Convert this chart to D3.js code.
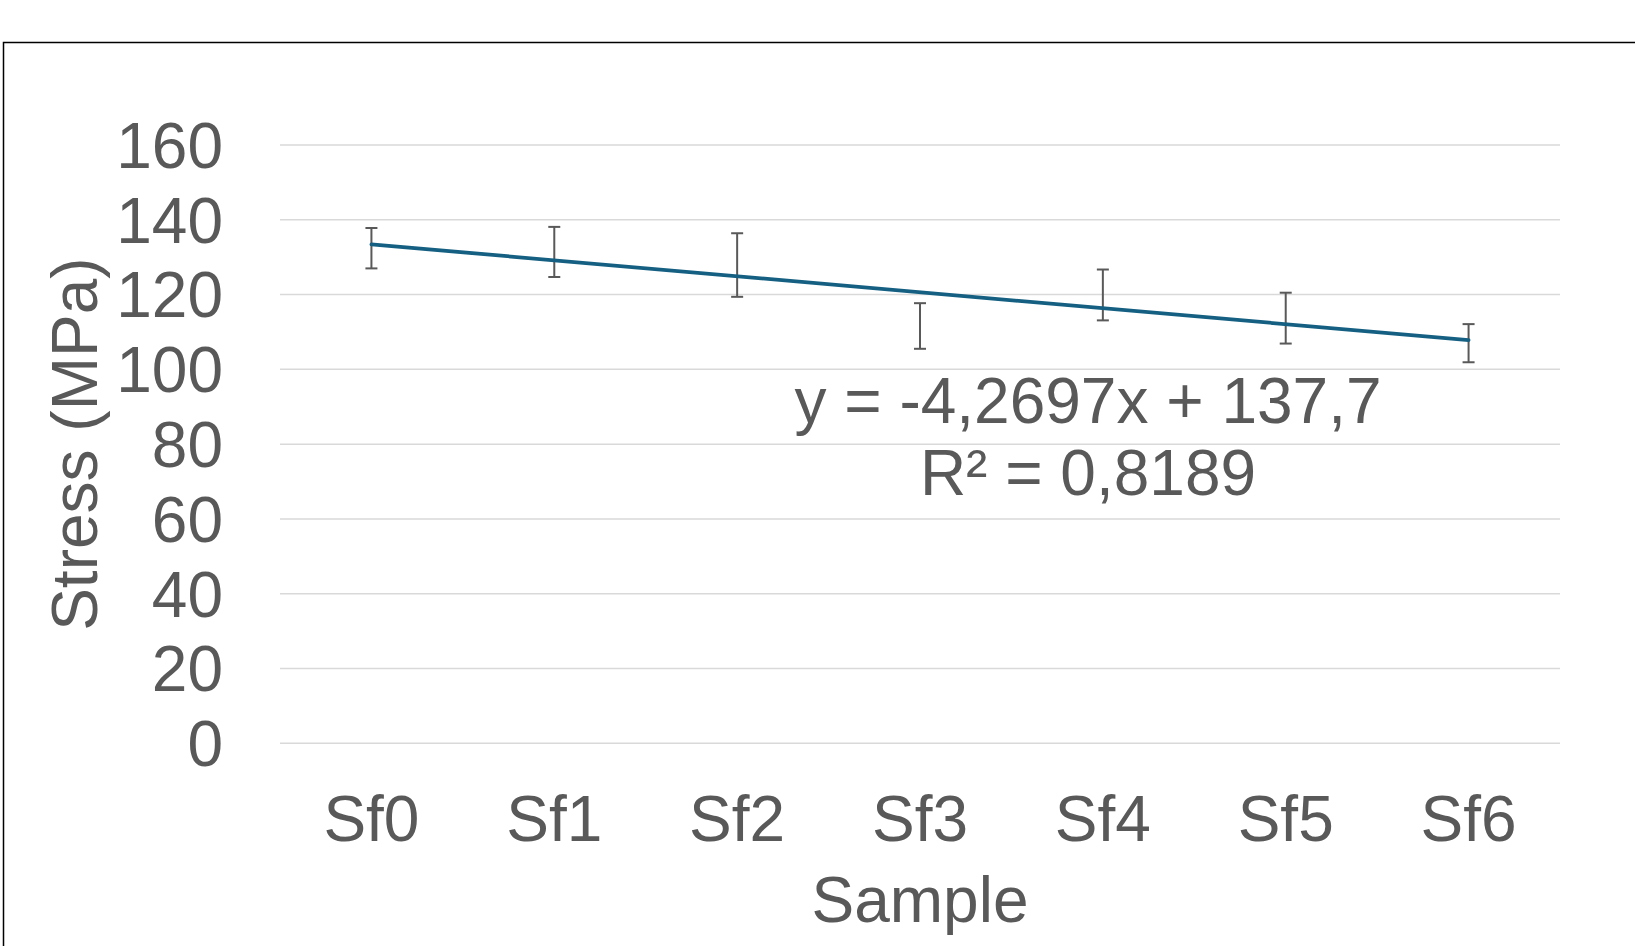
<!DOCTYPE html>
<html>
<head>
<meta charset="utf-8">
<script src="https://cdn.jsdelivr.net/npm/d3@7"></script>
<style>
    html, body { margin: 0; padding: 0; background: #ffffff; }
    svg { display: block; font-family: 'Liberation Sans', Arial, sans-serif; }
</style>
</head>
<body>
<div id="chart"></div>
<script>

var samples = [ 'Sf0', 'Sf1', 'Sf2', 'Sf3', 'Sf4', 'Sf5', 'Sf6' ];
var stress = [ 132.4, 131.4, 127.9, 111.6, 119.9, 113.7, 107.0 ];
var stress_error = [ 5.4, 6.7, 8.5, 6.1, 6.8, 6.8, 5.1 ];
var y_ticks = [ 0, 20, 40, 60, 80, 100, 120, 140, 160 ];

// Excel linear trendline, x = 1 .. 7
var trend_slope = -4.2697;
var trend_intercept = 137.7;
var trend_lines = [ 'y = -4,2697x + 137,7', 'R\u00b2 = 0,8189' ];

var _width = 1635;
var _height = 946;
var _text_color = '#595959';
var _font_size = '64px';

draw_chart( d3.select( '#chart' ) );

function draw_chart ( selection ) {

    var svg = selection.append( 'svg' )
        .attr( 'width', _width )
        .attr( 'height', _height );

    // Chart area border (runs off the right and bottom edges)
    svg.append( 'rect' )
        .attr( 'x', 3.5 )
        .attr( 'y', 42.5 )
        .attr( 'width', _width + 20 )
        .attr( 'height', _height + 20 )
        .attr( 'fill', 'white' )
        .attr( 'stroke', 'black' )
        .attr( 'stroke-width', 1.5 );

    var x = d3.scaleBand()
        .domain( samples )
        .range( [ 280, 1560 ] );

    var x_num = d3.scaleLinear()
        .domain( [ 0.5, samples.length + 0.5 ] )
        .range( [ 280, 1560 ] );

    var y = d3.scaleLinear()
        .domain( [ 0, 160 ] )
        .range( [ 743.3, 145 ] );

    // Gridlines
    svg.append( 'g' )
        .selectAll( 'line' )
        .data( y_ticks )
        .join( 'line' )
        .attr( 'x1', x.range()[ 0 ] )
        .attr( 'x2', x.range()[ 1 ] )
        .attr( 'y1', function ( d ) { return y( d ); } )
        .attr( 'y2', function ( d ) { return y( d ); } )
        .attr( 'stroke', '#d9d9d9' )
        .attr( 'stroke-width', 1.5 );

    // Y axis labels
    var y_axis = svg.append( 'g' )
        .attr( 'transform', 'translate(223,0)' )
        .call( d3.axisLeft( y ).tickValues( y_ticks ).tickSize( 0 ).tickPadding( 0 ) );

    y_axis.select( '.domain' ).remove();
    y_axis.selectAll( 'text' )
        .attr( 'fill', _text_color )
        .attr( 'font-size', _font_size )
        .attr( 'font-family', null )
        .attr( 'dy', '0.35em' );

    // X axis labels
    var x_axis = svg.append( 'g' )
        .attr( 'transform', 'translate(0,841)' )
        .call( d3.axisBottom( x ).tickSize( 0 ).tickPadding( 0 ) );

    x_axis.select( '.domain' ).remove();
    x_axis.selectAll( 'text' )
        .attr( 'fill', _text_color )
        .attr( 'font-size', _font_size )
        .attr( 'font-family', null )
        .attr( 'dy', 0 );

    // Axis titles
    svg.append( 'text' )
        .attr( 'x', 920 )
        .attr( 'y', 922 )
        .attr( 'text-anchor', 'middle' )
        .attr( 'fill', _text_color )
        .attr( 'font-size', _font_size )
        .text( 'Sample' );

    svg.append( 'text' )
        .attr( 'transform', 'translate(97,' + ( ( y( 0 ) + y( 160 ) ) / 2 ) + ') rotate(-90)' )
        .attr( 'text-anchor', 'middle' )
        .attr( 'fill', _text_color )
        .attr( 'font-size', _font_size )
        .text( 'Stress (MPa)' );

    // Error bars
    var bars = svg.append( 'g' )
        .attr( 'stroke', _text_color )
        .attr( 'stroke-width', 2 )
        .selectAll( 'g' )
        .data( samples )
        .join( 'g' )
        .attr( 'transform', function ( d ) {
            return 'translate(' + ( x( d ) + x.bandwidth() / 2 ) + ',0)';
        });

    bars.append( 'line' )
        .attr( 'y1', function ( d, i ) { return y( stress[ i ] - stress_error[ i ] ); } )
        .attr( 'y2', function ( d, i ) { return y( stress[ i ] + stress_error[ i ] ); } );

    bars.append( 'line' )
        .attr( 'x1', -6 )
        .attr( 'x2', 6 )
        .attr( 'y1', function ( d, i ) { return y( stress[ i ] + stress_error[ i ] ); } )
        .attr( 'y2', function ( d, i ) { return y( stress[ i ] + stress_error[ i ] ); } );

    bars.append( 'line' )
        .attr( 'x1', -6 )
        .attr( 'x2', 6 )
        .attr( 'y1', function ( d, i ) { return y( stress[ i ] - stress_error[ i ] ); } )
        .attr( 'y2', function ( d, i ) { return y( stress[ i ] - stress_error[ i ] ); } );

    // Trendline
    var trend_x = [ 1, samples.length ];
    var line = d3.line()
        .x( function ( d ) { return x_num( d ); } )
        .y( function ( d ) { return y( trend_slope * d + trend_intercept ); } );

    svg.append( 'path' )
        .datum( trend_x )
        .attr( 'd', line )
        .attr( 'fill', 'none' )
        .attr( 'stroke', '#156082' )
        .attr( 'stroke-width', 3.75 )
        .attr( 'stroke-linecap', 'round' );

    // Trendline label
    svg.append( 'g' )
        .selectAll( 'text' )
        .data( trend_lines )
        .join( 'text' )
        .attr( 'x', 1088 )
        .attr( 'y', function ( d, i ) { return 422.5 + i * 72.5; } )
        .attr( 'text-anchor', 'middle' )
        .attr( 'fill', _text_color )
        .attr( 'font-size', _font_size )
        .text( function ( d ) { return d; } );

}

</script>
</body>
</html>
